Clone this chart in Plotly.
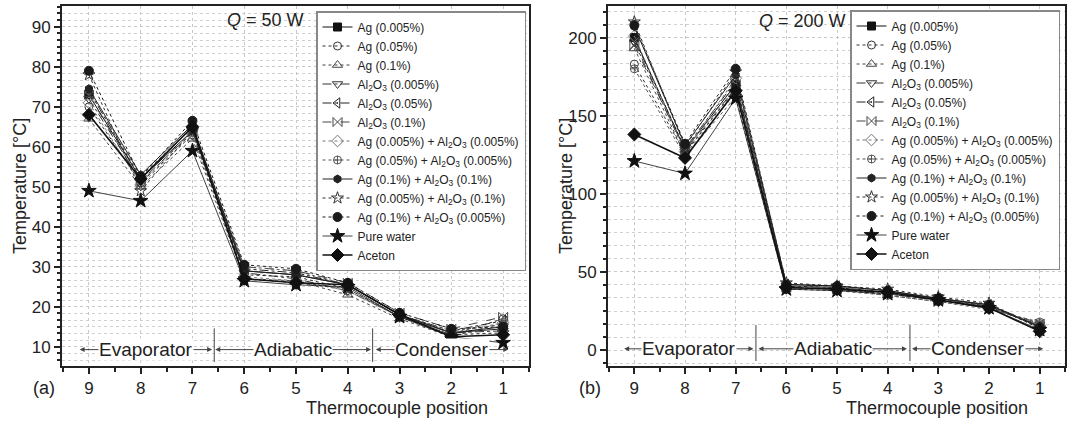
import plotly.graph_objects as go

positions = [9, 8, 7, 6, 5, 4, 3, 2, 1]
x_ticks = [9, 8, 7, 6, 5, 4, 3, 2, 1]

names = [
    "Ag (0.005%)",
    "Ag (0.05%)",
    "Ag (0.1%)",
    "Al<sub>2</sub>O<sub>3</sub> (0.005%)",
    "Al<sub>2</sub>O<sub>3</sub> (0.05%)",
    "Al<sub>2</sub>O<sub>3</sub> (0.1%)",
    "Ag (0.005%) + Al<sub>2</sub>O<sub>3</sub> (0.005%)",
    "Ag (0.05%) + Al<sub>2</sub>O<sub>3</sub> (0.005%)",
    "Ag (0.1%) + Al<sub>2</sub>O<sub>3</sub> (0.1%)",
    "Ag (0.005%) + Al<sub>2</sub>O<sub>3</sub> (0.1%)",
    "Ag (0.1%) + Al<sub>2</sub>O<sub>3</sub> (0.005%)",
    "Pure water",
    "Aceton",
]

# Q = 50 W
q50_ag005 = [73, 52, 64, 29, 28, 25.5, 18, 13.5, 15]
q50_ag05 = [70, 51, 63, 28, 27.5, 24.5, 17.5, 13, 17]
q50_ag1 = [67, 50, 62, 27, 26.5, 23, 17, 12.5, 16]
q50_al005 = [72, 51.5, 63.5, 28.5, 27, 24, 17.5, 13.5, 14]
q50_al05 = [74, 52, 65, 29.5, 28.5, 25.5, 18, 14, 16.5]
q50_al1 = [73, 51, 64, 30, 29, 26, 18.5, 14.5, 17.5]
q50_ag005al005 = [71, 50.5, 63, 27.5, 26.5, 24, 17.5, 13.5, 16]
q50_ag05al005 = [74, 52.5, 65, 30, 29, 25.5, 18, 14, 15.5]
q50_ag1al1 = [74.5, 53, 65.5, 29, 28, 25.5, 18, 13.5, 14.5]
q50_ag005al1 = [78, 49, 64, 27, 26, 24.5, 17.5, 13, 13.5]
q50_ag1al005 = [79, 52.5, 66.5, 30.5, 29.5, 26, 18.5, 14.5, 15]
q50_water = [49, 46.5, 59, 26.5, 25.5, 25, 17.5, 12.5, 11]
q50_aceton = [68, 52, 65, 27, 26, 25.5, 18, 12.5, 13]

# Q = 200 W
q200_ag005 = [200, 128, 170, 41, 40, 37, 33, 28, 15]
q200_ag05 = [183, 126, 167, 40, 39, 36, 32, 27, 17]
q200_ag1 = [193, 125, 165, 40, 39, 35, 31, 27, 16]
q200_al005 = [197, 127, 168, 41, 40, 37, 32, 28, 16]
q200_al05 = [199, 129, 172, 42, 41, 38, 33, 29, 15]
q200_al1 = [195, 128, 170, 40, 39, 36, 32, 28, 17]
q200_ag005al005 = [201, 127, 174, 41, 40, 37, 33, 28, 16]
q200_ag05al005 = [180, 124, 162, 39, 38, 35, 31, 26, 18]
q200_ag1al1 = [207, 131, 176, 42, 41, 38, 33, 29, 15]
q200_ag005al1 = [210, 130, 178, 43, 41, 39, 34, 30, 14]
q200_ag1al005 = [208, 132, 180, 42, 41, 38, 33, 29, 14]
q200_water = [121, 113, 161, 39, 38, 36, 32, 27, 13]
q200_aceton = [138, 123, 166, 40, 39, 37, 32, 27, 12]

q50 = [q50_ag005, q50_ag05, q50_ag1, q50_al005, q50_al05, q50_al1,
       q50_ag005al005, q50_ag05al005, q50_ag1al1, q50_ag005al1,
       q50_ag1al005, q50_water, q50_aceton]
q200 = [q200_ag005, q200_ag05, q200_ag1, q200_al005, q200_al05, q200_al1,
        q200_ag005al005, q200_ag05al005, q200_ag1al1, q200_ag005al1,
        q200_ag1al005, q200_water, q200_aceton]

# symbol, dash, color, line width, marker size
styles = [
    ("square", "solid", "#111111", 1.0, 8),
    ("circle-open", "dot", "#333333", 1.0, 8),
    ("triangle-up-open", "dot", "#444444", 1.0, 9),
    ("triangle-down-open", "dashdot", "#333333", 1.0, 9),
    ("triangle-left-open-dot", "dashdot", "#222222", 1.0, 9),
    ("bowtie-open", "dash", "#444444", 1.0, 9),
    ("diamond-open", "dot", "#777777", 1.0, 9),
    ("circle-cross-open", "dot", "#555555", 1.0, 8),
    ("hexagon", "solid", "#222222", 1.0, 8),
    ("star-open", "dot", "#333333", 1.0, 9),
    ("circle", "dot", "#1a1a1a", 1.0, 9),
    ("star", "solid", "#111111", 0.8, 11),
    ("diamond", "solid", "#111111", 1.6, 10),
]

FONT = "Liberation Sans, Arial, sans-serif"

fig = go.Figure()

for i, (nm, st) in enumerate(zip(names, styles)):
    sym, dash, col, lw, ms = st
    fig.add_trace(go.Scatter(
        x=positions, y=q50[i], name=nm, mode="lines+markers",
        line=dict(color=col, width=lw, dash=dash),
        marker=dict(symbol=sym, size=ms, color=col, line=dict(color=col, width=1)),
        xaxis="x", yaxis="y", legend="legend"))
for i, (nm, st) in enumerate(zip(names, styles)):
    sym, dash, col, lw, ms = st
    fig.add_trace(go.Scatter(
        x=positions, y=q200[i], name=nm, mode="lines+markers",
        line=dict(color=col, width=lw, dash=dash),
        marker=dict(symbol=sym, size=ms, color=col, line=dict(color=col, width=1)),
        xaxis="x2", yaxis="y2", legend="legend2"))

W, H = 1076, 424


def px(v):
    return v / W


def py(v):
    return (H - v) / H


common_x = dict(
    range=[9.52, 0.5], tickvals=x_ticks, showline=True, linecolor="#222", linewidth=2,
    mirror=True, ticks="outside", ticklen=6, tickwidth=1.5, tickcolor="#222",
    tickfont=dict(family=FONT, size=17, color="#222"),
    showgrid=True, gridcolor="#c8c8c8", griddash="dot", gridwidth=1,
    minor=dict(dtick=0.5, ticks="outside", ticklen=4, tickcolor="#222", showgrid=False),
    zeroline=False,
)
common_y = dict(
    showline=True, linecolor="#222", linewidth=2, mirror=True,
    ticks="outside", ticklen=6, tickwidth=1.5, tickcolor="#222",
    tickfont=dict(family=FONT, size=17, color="#222"),
    showgrid=True, gridcolor="#c8c8c8", griddash="dot", gridwidth=1,
    zeroline=False,
)

fig.update_layout(
    width=W, height=H, margin=dict(l=0, r=0, t=0, b=0, autoexpand=False),
    paper_bgcolor="white", plot_bgcolor="white", showlegend=True,
    font=dict(family=FONT, color="#222"),
    xaxis=dict(domain=[px(62), px(529)], anchor="y", **common_x),
    yaxis=dict(domain=[py(366), py(6)], anchor="x", range=[5.2, 95.2], dtick=10, tick0=0,
               minor=dict(dtick=10 / 6, tick0=0, ticks="outside", ticklen=3, tickcolor="#222",
                          showgrid=True, gridcolor="#d0d0d0", griddash="dot"),
               **common_y),
    xaxis2=dict(domain=[px(608), px(1065)], anchor="y2", **common_x),
    yaxis2=dict(domain=[py(366), py(6)], anchor="x2", range=[-10.2, 220.2], dtick=50, tick0=0,
                minor=dict(dtick=50 / 6, tick0=0, ticks="outside", ticklen=3, tickcolor="#222",
                           showgrid=True, gridcolor="#d0d0d0", griddash="dot"),
                **common_y),
    legend=dict(x=px(316), y=py(11), xanchor="left", yanchor="top",
                bgcolor="white", bordercolor="#888", borderwidth=1.5,
                font=dict(family=FONT, size=12, color="#222"), tracegroupgap=0),
    legend2=dict(x=px(850), y=py(10), xanchor="left", yanchor="top",
                 bgcolor="white", bordercolor="#888", borderwidth=1.5,
                 font=dict(family=FONT, size=12, color="#222"), tracegroupgap=0),
)

shapes = []
annotations = []


def regions(xr, yr, ylab, sep_y0, sep_y1, segs, seps):
    for x0 in seps:
        shapes.append(dict(type="line", xref=xr, yref=yr, x0=x0, x1=x0, y0=sep_y0, y1=sep_y1,
                           line=dict(color="#444", width=1)))
    for (a, b, label) in segs:
        mid = (a + b) / 2
        for tip in (a, b):
            annotations.append(dict(xref=xr, yref=yr, x=tip, y=ylab, axref=xr, ayref=yr,
                                    ax=mid, ay=ylab, text="", showarrow=True, arrowhead=2,
                                    arrowsize=1, arrowwidth=1, arrowcolor="#444"))
        annotations.append(dict(xref=xr, yref=yr, x=mid, y=ylab, text=label, showarrow=False,
                                xanchor="center", yanchor="middle",
                                bgcolor="white", borderpad=0,
                                font=dict(family=FONT, size=19, color="#222")))


regions("x", "y", 9.3, 6.2, 14.6,
        [(9.18, 6.62, "Evaporator"), (6.56, 3.55, "Adiabatic"), (3.46, 0.9, "Condenser")],
        [6.58, 3.52])
regions("x2", "y2", 0.8, -7, 16,
        [(9.2, 6.65, "Evaporator"), (6.55, 3.62, "Adiabatic"), (3.52, 0.93, "Condenser")],
        [6.6, 3.56])


def txt(x, y, t, angle=0, size=18):
    return dict(xref="paper", yref="paper", x=px(x), y=py(y), text=t, textangle=angle,
                xanchor="center", yanchor="middle", showarrow=False,
                font=dict(family=FONT, size=size, color="#222"))


annotations += [
    txt(265, 20, "<i>Q</i> = 50 W"),
    txt(802, 21, "<i>Q</i> = 200 W"),
    txt(20, 186, "Temperature [°C]", -90),
    txt(566, 186, "Temperature [°C]", -90),
    txt(397, 408, "Thermocouple position"),
    txt(937, 408, "Thermocouple position"),
    txt(44, 388, "(a)"),
    txt(590, 388, "(b)"),
]

fig.update_layout(shapes=shapes, annotations=annotations)
fig.write_html("out.html")
